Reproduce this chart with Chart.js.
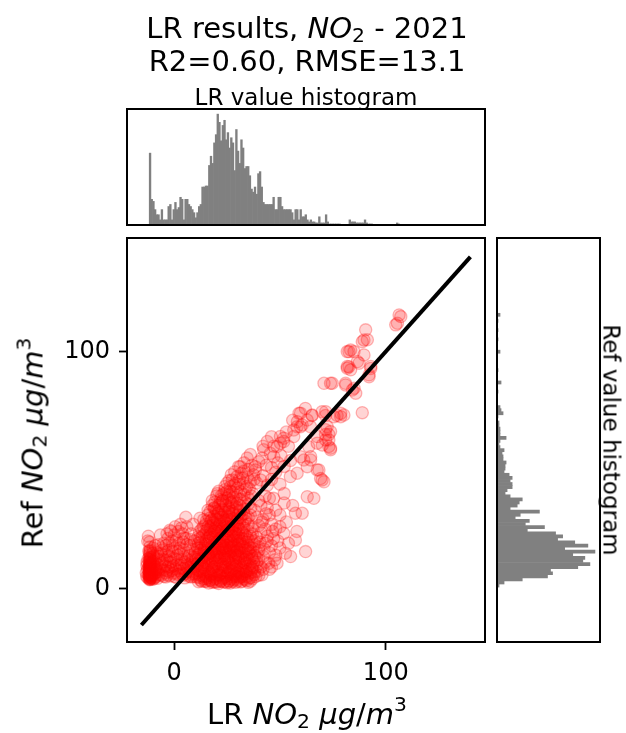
<!DOCTYPE html>
<html>
  <head>
    <script src="https://cdn.jsdelivr.net/npm/chart.js@4.4.1/dist/chart.umd.min.js"></script>
    <style>
      html, body { margin: 0; padding: 0; background: #fff; }
      body { width: 626px; height: 733px; position: relative; overflow: hidden; font-family: "DejaVu Sans", sans-serif; color: #000; }
      canvas { position: absolute; left: 0; top: 0; }
      .lbl { position: absolute; white-space: nowrap; line-height: 1; transform: translate(-50%, -50%); }
      .lbl sub, .lbl sup { font-size: 70%; line-height: 0; }
      .lbl sub { vertical-align: -0.22em; }
      .lbl sup { vertical-align: 0.6em; }
      .rot-l { transform: translate(-50%, -50%) rotate(-90deg); }
      .rot-r { transform: translate(-50%, -50%) rotate(90deg); }
    </style>
  </head>
  <body>
    <canvas id="topHist" width="626" height="733"></canvas>
    <canvas id="scatter" width="626" height="733"></canvas>
    <canvas id="rightHist" width="626" height="733"></canvas>

    <div class="lbl" style="left:307px;top:28px;font-size:29px">LR results, <i>NO</i><sub>2</sub> - 2021</div>
    <div class="lbl" style="left:307px;top:61px;font-size:29px">R2=0.60, RMSE=13.1</div>
    <div class="lbl" style="left:306px;top:97px;font-size:23px">LR value histogram</div>
    <div class="lbl" style="left:307px;top:714px;font-size:29px">LR <i>NO</i><sub>2</sub> <i>μg</i>/<i>m</i><sup>3</sup></div>
    <div class="lbl rot-l" style="left:33px;top:443px;font-size:29px">Ref <i>NO</i><sub>2</sub> <i>μg</i>/<i>m</i><sup>3</sup></div>
    <div class="lbl rot-r" style="left:611px;top:440px;font-size:23px">Ref value histogram</div>

    <script>
      // axes
      var xRange = [-22.3, 146.9];
      var yRange = [-22.7, 148];
      var xTicks = [0, 100];
      var yTicks = [0, 100];
      var identityLine = [-15.5, 140];

      // LR value histogram (top)
      var lrBinStart = -11.8;
      var lrBinWidth = 0.8;
      var lrCounts = [
        70, 25, 23, 15, 10, 10, 5, 15, 5, 5,
        5, 18, 20, 5, 15, 22, 15, 17, 27, 25,
        5, 25, 25, 20, 18, 15, 12, 7, 12, 18,
        20, 37, 37, 38, 38, 58, 67, 60, 80, 88,
        108, 100, 82, 97, 102, 83, 90, 75, 85, 80,
        53, 93, 72, 60, 83, 75, 55, 57, 57, 48,
        35, 32, 37, 30, 50, 52, 37, 22, 20, 20,
        20, 20, 20, 27, 15, 15, 27, 27, 18, 15,
        15, 15, 15, 15, 12, 5, 15, 15, 5, 15,
        8, 8, 10, 5, 3, 5, 3, 3, 2, 2,
        8, 2, 2, 2, 10, 3, 1, 1, 1, 1,
        1, 1, 1, 0, 0, 0, 0, 0, 5, 3,
        3, 3, 2, 2, 2, 2, 2, 5, 2, 1,
        1, 1, 0, 0, 0, 0, 0, 0, 0, 0,
        0, 0, 0, 0, 0, 0, 2, 1, 0, 0
      ];
      var lrCountMax = 113;

      // Ref value histogram (right)
      var refBinStart = 0.5;
      var refBinWidth = 1.3;
      var refCounts = [
        2, 7, 25, 50, 55, 53, 80, 92, 85, 87,
        75, 97, 67, 90, 77, 60, 65, 58, 30, 47,
        28, 32, 18, 23, 42, 13, 20, 22, 25, 13,
        8, 10, 15, 15, 13, 15, 12, 7, 8, 8,
        9, 6, 6, 5, 7, 3, 2, 3, 9, 3,
        3, 3, 2, 2, 0, 1, 6, 4, 3, 0,
        0, 0, 0, 1, 0, 0, 4, 0, 0, 0,
        1, 0, 0, 0, 0, 0, 3, 0, 0, 0,
        1, 0, 0, 1, 0, 0, 1, 0, 3, 0
      ];
      var refCountMax = 102;

      // scatter: [LR, Ref]
      var scatterPoints = [
        [-11.6,3.6],[-11.4,4.3],[-11.5,5],[-11.3,5.6],[-11.7,6.4],[-11.4,7.2],[-11.5,8.1],[-11.6,9],[-11.3,9.9],[-11.5,10.8],
        [-11.4,11.7],[-11.6,12.8],[-11.5,14.2],[-11.4,15.6],[-11.5,17.4],[-11.6,4],[-11.3,4.8],[-11.5,6],[-11.4,6.8],[-11.6,7.7],
        [-11.4,8.6],[-11.5,9.5],[-11.3,3.8],[-11.6,5.4],[-11.5,7.5],[-11.4,10.3],[-11.5,12.2],[-11.6,19.5],
        [-10.5,4.2],[-9.8,6],[-10,9.5],[-9,8],[-8.5,5],[-9.5,11.5],[-8,10],[-7.5,7],[-10.2,3.8],[-9.2,4.5],
        [-10.6,6.2],[-8.8,12.5],[-7.2,12],[-6.5,9],[-6,5.5],[-7.8,4.2],[-10.8,13],[-12.5,20],[-10,17],[-9,18],
        [-8,15],[-10.4,7.6],[-9.4,9.8],[-10.9,10.6],[-8.6,6.8],[-12.2,22],
        [-13,5],[-12.6,8],[-12.8,11],[-13.2,6.6],[-12.4,4.4],[-12.9,9.6],
        [-11.5,3.9],[-11.4,4.6],[-11.6,5.2],[-11.5,5.8],[-11.3,6.2],[-11.5,6.6],[-11.6,7],[-11.4,7.9],[-11.5,8.4],[-11.3,8.8],
        [-11.6,9.3],[-11.4,9.7],[-11.5,10.5],[-11.6,11.2],[-11.4,12],[-11.5,13.2],[-11.6,14.8],[-11.4,16.2],
        [-10.8,4.5],[-10.3,5.3],[-9.6,4],[-10.7,8.2],[-9.9,7.2],[-10.2,11.2],[-9.2,6.4],[-8.8,9],[-10.6,5.6],[-12.3,6],
        [-12.1,9],[-12.4,12.4],[-9.6,13.6],[-8.4,7.8],[-10.1,14.8],[-12,15.6],[-7,5.8],
        [-5,5],[-4,6.5],[-3,9],[-2,5.2],[-1,7.5],[0,5],[1,10],[2,6],[3,8.5],[4,5.5],
        [5,11],[6,7],[7,5],[8,9.5],[9,13],[10,6],[11,10],[-5.5,11],[-4.5,14],[-3.5,12],
        [-2.5,16],[-1.5,13],[0.5,17],[1.5,14],[2.5,19],[3.5,12],[4.5,16],[5.5,21],[6.5,15],[7.5,18],
        [8.5,12],[9.5,20],[-6,17],[-5,19],[-3,21],[-1,20],[0,22.5],[2,24],[4,23],[-4,4.8],
        [1,4.6],[5,4.4],[8,4.8],[-2,11],[3,14.5],[6,12.5],[-0.5,9.5],[7,10],[10,15],[11.5,19],
        [-1.5,24],[3,27],[6,26],[8,23],[9,27],[12,24],[-6.5,22.5],[-2,24.5],[5.5,30],[3.5,25.5],
        [0.5,26],[-3.5,7.5],[2.5,9.8],[6.5,8.6],[-0.8,15.5],[4.2,19.6],
        [-7,8],[-6,10.5],[-5,7.8],[-4.2,9.4],[-3.2,5.6],[-2.4,7],[-1.6,9],[-0.4,6.4],[0.6,8.2],[1.6,5.8],
        [2.4,7.4],[3.6,6.2],[4.6,8.4],[5.6,6.2],[6.8,5.6],[7.8,7.2],[8.8,6],[9.6,8.2],[10.6,4.8],[11.2,7.6],
        [-7.4,13.4],[-6.2,14.6],[-4.8,12],[-3.6,15.4],[-2.6,13.6],[-1.4,11],[-0.2,12.6],[1.2,12],[2.2,15.6],[3.4,10.4],
        [4.8,13.2],[5.8,9.6],[7.2,13.8],[8.2,11],[9.4,10.2],[10.4,12.2],
        [-5.6,16.2],[-4,18],[-2.2,19],[-0.6,18.2],[1,20.4],[2.8,17],[4.6,21.2],[6,18.4],[7.6,20.6],[8.8,16.4],
        [10.6,18],[11.4,21.8],[-7.6,18.4],[-3.4,23],
        [11.5,2.8],[13,3],[15,3],[16.3,2.2],[18,2.5],[20,2.6],[22,3],[24,2.8],[26.5,2.2],[28,3.5],
        [30,3],[32,3],[33.6,3.6],[35,2.5],[37,4],[14,4],[19,3.8],[23,4.2],[27,4],[31,4.5],
        [21,2],[25,2.3],[17,3.5],[29,2.5],
        [12.5,3.4],[14.5,2.9],[16.8,3.3],[19.2,2.7],[21.6,3.5],[23.4,2.6],[25.8,3.1],[27.6,2.8],[29.8,3.8],[31.4,2.7],
        [34.2,3.2],[36.4,4.6],[38.6,5],
        [9,5],[10.5,6.5],[12,5.5],[13.5,7],[15,5],[16,7.5],[17.5,6],[19,4.8],[20,7],[21.5,5.5],
        [23,7.5],[24.5,5],[25.5,6.5],[27,7.5],[28.5,5.5],[30,7],[31.5,6],[33,7.5],[34.5,5],[36,6.5],
        [38,7],[40,5.5],[41.5,5.7],[42,8],[14.5,8],[18,8],[22,6.3],[26,8],[29,8],[32,5.2],[35.5,8],
        [11.8,4.6],[13.6,5.2],[15.8,4.4],[17.4,5.4],[19.8,4.2],[21.2,5.8],[23.8,4.6],[25.2,5.6],[27.8,4.8],[29.4,6.2],
        [31.8,4.8],[33.4,6],[35.6,4.4],[37.8,5.8],[39.6,7.2],
        [12.4,7.2],[14.2,8.6],[16.6,6.8],[18.4,7.4],[20.6,8.2],[22.8,6.6],[24.2,8.8],[26.4,7],[28.2,8.4],[30.6,6.6],
        [32.2,8.2],[34,7],[36.8,8.6],[38.8,9],
        [9,9],[11,10.5],[12.5,8.5],[14,11],[15.5,9.5],[17,11.5],[18.5,9],[20,10.5],[21,12],[22.5,9.5],
        [24,11],[25,9],[26.5,10.5],[28,12],[29.5,9.5],[31,11],[32.5,9],[34,10.5],[35.5,12],[37,9.5],
        [39,11],[41,9],[43,11],[44.7,10.6],[46,9],[48.6,10.6],[16,10],[19.5,12],[23.5,12.5],[27.5,9],
        [30.5,12.5],[33.5,12],[36,10],[13,12],
        [11.6,11.4],[13.4,9.4],[15,10.8],[17.6,9.8],[19.4,11],[21.8,10.2],[23.2,9],[25.6,11.6],[27.2,10.4],[29.2,11.4],
        [31.6,9.6],[33.2,10.8],[35,9.4],[37.6,11.2],
        [10,13],[12,14.5],[13.5,13],[15,15],[16.5,13.5],[18,15.5],[19.5,14],[21,16],[22.5,13.5],[24,15],
        [25.5,13],[27,15.5],[28.5,14],[30,16],[31.5,13.5],[33,15],[34.5,13],[36,15.5],[38,14],[40,16],
        [42,13.5],[45,15],[48,14],[52.6,14.8],[55,13.4],[62.1,15.5],[17,12.5],[20.5,13],[26,14.5],[29,12.8],
        [32,14.8],[37,12.5],[14,16],[23,16.2],
        [11.2,14],[12.8,12.6],[14.6,13.8],[16.2,14.6],[18.6,13],[20.2,14.4],[21.6,12.8],[23.8,14],[25,12.2],[26.8,13.6],
        [28.8,15],[30.4,13.2],[32.6,12.4],[34.2,14.2],[36.6,13.6],[39,13],
        [11,17],[13,18.5],[14.5,17],[16,19],[17.5,17.5],[19,19.5],[20.5,17],[22,19],[23.5,17.5],[25,19.5],
        [26.5,17],[28,18.5],[29.5,17],[31,19],[32.5,17.5],[34,19.5],[36,17],[38,18.5],[40,17.5],[43,19],
        [46,18],[50,17],[18,16.5],[24,16.8],[30,20],[35,16.3],[27,20],
        [12.6,16.2],[14.2,15.4],[15.8,16.8],[17.4,15.2],[19.2,16.4],[21.4,15.2],[22.8,16.8],[24.6,15.8],[26.2,16.2],[27.8,17.4],
        [29.6,15.6],[31.2,16.6],[33.6,17],[35.4,15],[37.4,16.8],
        [12.4,19.4],[14.8,18.6],[16.6,20.2],[18.2,18.4],[20.2,19.6],[21.8,18.2],[23.2,19.8],[24.8,18.2],[26.6,19.6],[28.4,18],
        [30.4,18.6],[32.2,19.8],[34.8,18.2],[36.8,19.6],
        [12,21],[14,22.5],[15.5,21],[17,23],[18.5,21.5],[20,23.5],[21.5,21],[23,22.5],[24.5,20.5],[26,22],
        [27.5,24],[29,21.5],[30.5,23],[32,21],[33.5,22.5],[35,20.5],[37,23],[39,21.5],[41,23.5],[44,22],
        [47,21],[51.8,23.2],[57.3,20.4],[22,24],[28,20.3],[36,22],
        [13.2,21.8],[15,23.4],[16.4,21.4],[18,22.6],[19.6,21],[21,22.8],[22.6,21.6],[24.2,23],[25.6,21.2],[27.2,22.4],
        [28.6,23.6],[30.2,21.8],[32.4,23.4],[34.4,21.6],
        [13,25],[15,27],[17,25.5],[18.5,27.5],[20,25],[21.5,27],[23,25.5],[24.5,27.5],[26,25],[27.5,26.5],
        [29,25],[31,27.5],[33,25.5],[35,27],[37,25],[40,26.5],[43,25],[46,27],[50,26],[19,24.2],
        [25,24.5],[30,26],
        [13.8,26],[15.6,24.8],[17.6,26.4],[19.4,25.4],[21,26.2],[22.6,24.6],[24,26.4],[25.6,25.2],[27.2,24.8],[28.8,26.6],
        [30.6,25],[32.6,26.8],[34.6,24.4],
        [14,29],[16,31],[17.5,28.5],[19,30.5],[20.5,29],[22,31],[23.5,28.5],[25,30.5],[26.5,29],[28,31.5],
        [30,29],[32,31],[34,29.5],[36,31],[39,30],[42,29],[45,31],[57.3,31.7],[60.5,31.7],[12.2,29.6],
        [21,32],[27,28.2],
        [15.2,28.4],[16.8,29.6],[18.4,28],[20,29.4],[21.6,28.2],[23,30],[24.6,28.8],[26,30.2],[27.8,29.4],[29.4,28],
        [31.4,29.8],[33.4,28.4],
        [16,33],[18,35],[19.5,33.5],[21.8,35.9],[23,33],[24.5,35],[26,33.5],[27.5,35.5],[29,33],[31,35],
        [33,33.5],[35,35.5],[38,33],[41,35],[44,34],[48,33],[20,32.5],[25.5,32.2],
        [17,32.4],[18.8,33.8],[20.6,31.6],[22.4,33.4],[24,32],[25.8,34],[27.4,32.6],[29.2,34.4],[31.2,32.2],[33,31.4],
        [18,37],[20,39],[22,37.5],[23.5,40],[25,38],[26.5,41],[28,38.5],[29.5,40.5],[31,37.5],[33,39.5],
        [35,38],[37,40],[40,37],[43,39],[47,38],[52,40],[62.9,38.7],[66,38],[26.5,42.9],[24.9,40.8],
        [21,41],
        [19.2,36.4],[21,35],[22.8,37],[24.2,35.6],[26,37.4],[27.8,36.6],[29.6,35.8],[31.6,37.6],[33.8,36.2],[36.2,34],
        [20.4,40],[22.4,39.2],[24,41.6],[25.8,39.4],[27.6,40.6],[29.2,38.4],[31.4,40.8],[33.6,41.6],[36.4,39],
        [24,43],[26,45.5],[28.1,43.6],[29.7,47.2],[31,44],[32.5,46.5],[34.4,43],[36,45],[37.5,48],[39,44.5],
        [40.8,45.8],[42,47.5],[44,43.5],[46,46],[48,49],[50,44],[54.9,47.2],[58.1,48.6],[27,48],[33,49.5],
        [35.5,42],[30,42.5],
        [25,44.4],[27.4,45.8],[29,44.2],[30.8,46],[32.8,44.4],[34.6,47],[28.6,49.2],[31.8,48.6],[35,50.2],[37.8,46],
        [30.5,51.4],[31.3,51.4],[33,53],[34.5,55],[36.8,52],[38.4,50],[38.4,51.4],[40,53.5],[41.5,55],[42.3,58.5],
        [43.5,52],[45.5,57],[47.1,55.6],[46,51],[49,53],[50.5,56],[52,51.5],[55,54],[59.7,55.6],[62.9,51.4],
        [64.5,54.2],[61.3,54.2],[64.5,55.6],[67.6,50],[69.9,45.8],[70.8,45],[69.2,46.4],[68.4,50],[36,56.5],
        [42,60],[44,62],[48.6,59.9],[50.2,64.1],[51.8,62],[51.8,63.4],[50.2,61.3],[54,60],[56.5,64.1],[56.5,66.9],
        [58.1,68.3],[59.7,68.3],[63.6,59.8],[64.4,68.3],[67.6,61.3],[67.6,64.1],[70,60.5],[73.1,62.7],[73.9,58.5],[73.9,59.2],
        [71.5,65],[73.1,65],[73.9,66.2],[71.6,67],[71.6,62.7],[73.1,59.9],[46,64],[47,60],[53,66],
        [59,73.9],[59.7,74],[58.2,70.4],[60.5,69],[62.9,71.1],[65.2,73.2],[69.9,74.6],[72.3,68.3],[75.5,72.5],[78.7,73.9],
        [65.2,73],[71.5,73],[77,73],[80.2,73.2],[78.7,72.5],[71.6,74.6],[88.9,74.2],[56,71],[62,76],
        [70.8,86.6],[74.7,86.6],[73.9,86.6],[81,86.6],[81,85.9],[84.2,83.8],[85,84.5],[85.8,82.4],[81.8,93.7],[83.4,92.3],
        [82.6,93.6],[92.9,93.7],[92.1,90.2],[92.9,92.9],[92.1,89.4],[86.6,95.8],[87.4,95.1],[89.7,98.6],[81.8,100],[83.4,100.7],
        [85,100],[82.6,100],[81.8,93],
        [88.9,104.2],[89.7,104.9],[91.3,105],[90.5,109.2],[106.3,115.5],[105.5,112],[107.1,114.8],[104.7,111.3],
        [53,28],[56,35],[50,31],[48,25],[54,19],[58,24],[45,38],[52,36],
        [40.5,19.5],[42.5,16.5],[44,20],[41.5,28],[43.5,31.5],[46.5,24],[47.5,12],[45,8],[49,20],
        [15,4],[17,6],[19,9],[21,7],[23,10],[25,4],[27,6],[29,10],[31,8],[33,4],
        [16,13],[18,11],[20,15],[22,18],[24,13],[26,11],[28,16],[30,14],[32,18],[34,16],
        [15,20],[17,22],[19,18],[21,24],[23,20],[25,22],[27,18],[29,23],[31,25],[33,21],
        [16,26],[18,29],[20,27],[22,30],[24,28],[26,32],[28,27],[30,31],[18,3],[22,3],
        [26,3],[30,5],[34,7],[36,3],[14,6],[13,10],[12,17],[14,24],[19,34],[23,37],
        [27,36],[31,33],[35,30],[37,26],[38,20],[39,15],[40,12],[37,8],[24,7.5],[20,5.5],
        [28,22],[25,26],[21,20],[17,15],[29,5],[33,11],[26,17],[19,24],[23,15],[31,20]
      ];

      var tickFont = { family: 'DejaVu Sans', size: 24 };

      // box around each axes
      var frame = {
        id: 'frame',
        afterDraw: function (chart) {
          var a = chart.chartArea, c = chart.ctx;
          c.save();
          c.lineWidth = 2;
          c.strokeStyle = '#000';
          c.strokeRect(a.left, a.top, a.right - a.left, a.bottom - a.top);
          c.restore();
        }
      };

      var common = {
        responsive: false,
        animation: false,
        events: [],
        plugins: { legend: { display: false }, tooltip: { enabled: false } }
      };

      new Chart(document.getElementById('scatter'), {
        type: 'scatter',
        data: {
          datasets: [{
            type: 'line',
            data: identityLine.map(function (v) { return { x: v, y: v }; }),
            borderColor: '#000',
            borderWidth: 4,
            pointRadius: 0,
            fill: false,
            order: 0
          }, {
            data: scatterPoints.map(function (p) { return { x: p[0], y: p[1] }; }),
            backgroundColor: 'rgba(255, 0, 0, 0.17)',
            borderColor: 'rgba(255, 0, 0, 0.28)',
            borderWidth: 1.3,
            pointRadius: 6.1,
            order: 1
          }]
        },
        options: Object.assign({}, common, {
          layout: { padding: { left: 0, top: 238, right: 141, bottom: 0 } },
          scales: {
            x: {
              type: 'linear', min: xRange[0], max: xRange[1],
              afterBuildTicks: function (s) { s.ticks = xTicks.map(function (v) { return { value: v }; }); },
              afterFit: function (s) { s.height = 91; },
              grid: { drawOnChartArea: false, tickLength: 8, tickWidth: 1.8, tickColor: '#000' },
              border: { display: false },
              ticks: { font: tickFont, color: '#000', padding: 9, maxRotation: 0 }
            },
            y: {
              type: 'linear', min: yRange[0], max: yRange[1],
              afterBuildTicks: function (s) { s.ticks = yTicks.map(function (v) { return { value: v }; }); },
              afterFit: function (s) { s.width = 127; },
              grid: { drawOnChartArea: false, tickLength: 8, tickWidth: 1.8, tickColor: '#000' },
              border: { display: false },
              ticks: { font: tickFont, color: '#000', padding: 9 }
            }
          }
        }),
        plugins: [frame]
      });

      new Chart(document.getElementById('topHist'), {
        type: 'bar',
        data: {
          datasets: [{
            data: lrCounts.map(function (c, i) { return { x: lrBinStart + lrBinWidth * (i + 0.5), y: c }; }),
            backgroundColor: '#808080',
            borderWidth: 0,
            barPercentage: 1,
            categoryPercentage: 1
          }]
        },
        options: Object.assign({}, common, {
          layout: { padding: { left: 127, top: 109, right: 141, bottom: 508 } },
          scales: {
            x: { type: 'linear', min: xRange[0], max: xRange[1], offset: false, display: false },
            y: { type: 'linear', min: 0, max: lrCountMax, display: false }
          }
        }),
        plugins: [frame]
      });

      new Chart(document.getElementById('rightHist'), {
        type: 'bar',
        data: {
          datasets: [{
            data: refCounts.map(function (c, j) { return { x: c, y: refBinStart + refBinWidth * (j + 0.5) }; }),
            backgroundColor: '#808080',
            borderWidth: 0,
            barPercentage: 1,
            categoryPercentage: 1
          }]
        },
        options: Object.assign({}, common, {
          indexAxis: 'y',
          layout: { padding: { left: 497, top: 238, right: 26, bottom: 91 } },
          scales: {
            y: { type: 'linear', min: yRange[0], max: yRange[1], offset: false, display: false },
            x: { type: 'linear', min: 0, max: refCountMax, display: false }
          }
        }),
        plugins: [frame]
      });
    </script>
  </body>
</html>
